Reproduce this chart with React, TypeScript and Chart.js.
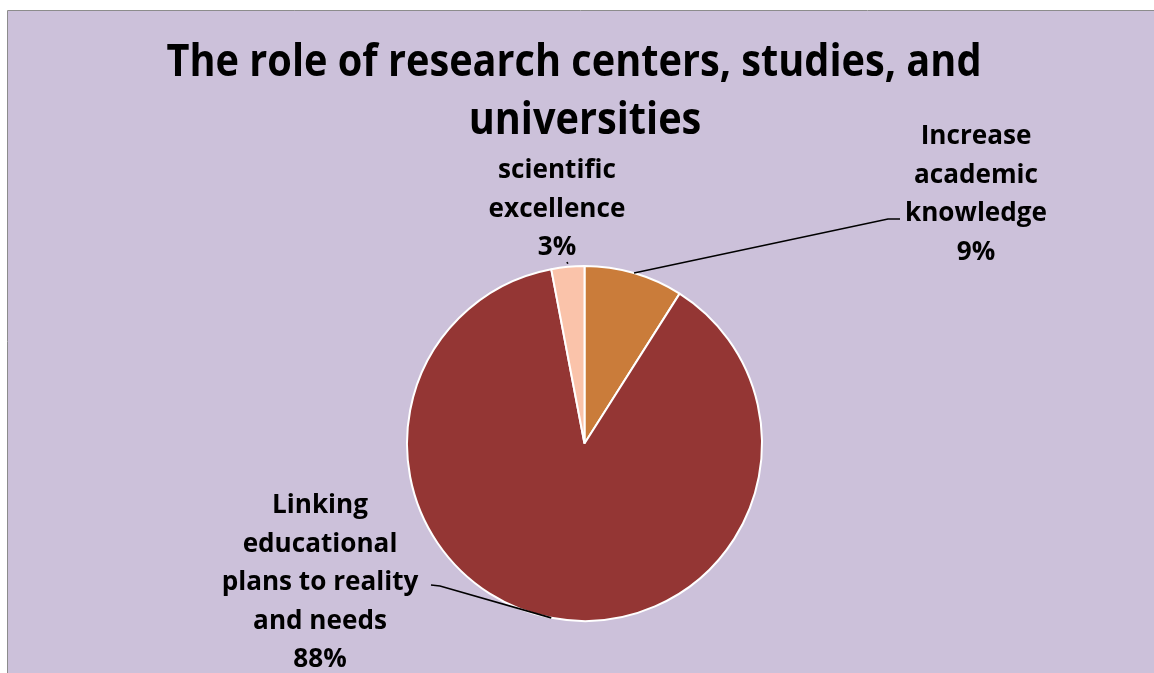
import React, { useEffect, useRef } from "react";
import { Chart, registerables } from "chart.js";

Chart.register(...registerables);

const titleLines = ["The role of research centers, studies, and", "universities"];
const categories = [
  "Increase academic knowledge",
  "Linking educational plans to reality and needs",
  "scientific excellence",
];
const values = [9, 88, 3];
const labelLines = [
  ["Increase", "academic", "knowledge"],
  ["Linking", "educational", "plans to reality", "and needs"],
  ["scientific", "excellence"],
];
const sliceColors = ["#CA7C3A", "#943634", "#FAC3AA"];

const W = 1154;
const H = 673;
const FONT = "'Open Sans', Lato, sans-serif";

function drawText(
  ctx: CanvasRenderingContext2D,
  text: string,
  cx: number,
  baseline: number,
  size: number,
  sx: number
) {
  ctx.save();
  ctx.font = `bold ${size}px ${FONT}`;
  (ctx as any).textRendering = "optimizeSpeed";
  ctx.textAlign = "center";
  ctx.textBaseline = "alphabetic";
  ctx.fillStyle = "#000";
  ctx.translate(cx, baseline);
  ctx.scale(sx, 1);
  ctx.fillText(text, 0, 0);
  ctx.restore();
}

function widthScale(ctx: CanvasRenderingContext2D, text: string, size: number, target: number) {
  ctx.save();
  ctx.font = `bold ${size}px ${FONT}`;
  (ctx as any).textRendering = "optimizeSpeed";
  const w = ctx.measureText(text).width;
  ctx.restore();
  return target / w;
}

const decorPlugin = {
  id: "decor",
  beforeDraw(chart: any) {
    const ctx: CanvasRenderingContext2D = chart.ctx;
    ctx.save();
    ctx.fillStyle = "#ffffff";
    ctx.fillRect(0, 0, W, H);
    ctx.fillStyle = "#CCC1DA";
    ctx.fillRect(8, 11, W - 8, H - 11);
    ctx.strokeStyle = "#8C8C8C";
    ctx.lineWidth = 1;
    ctx.beginPath();
    ctx.moveTo(7.5, H);
    ctx.lineTo(7.5, 10.5);
    ctx.lineTo(W, 10.5);
    ctx.stroke();
    ctx.restore();
  },
  afterDraw(chart: any) {
    const ctx: CanvasRenderingContext2D = chart.ctx;
    // Title
    const tSize = 45;
    const tsx = widthScale(ctx, titleLines[0], tSize, 815);
    drawText(ctx, titleLines[0], 574, 76, tSize, tsx);
    drawText(ctx, titleLines[1], 585, 134, tSize, tsx);

    // Labels
    const lSize = 27;
    const lsx = widthScale(ctx, "knowledge", lSize, 142);
    const total = values.reduce((a, b) => a + b, 0);
    const layout = [
      { cx: 976, base: 144, anchor: [900, 219], elbow: [888, 219] },
      { cx: 320, base: 513, anchor: [431, 585], elbow: [440, 586] },
      { cx: 557, base: 178, anchor: [567, 262], elbow: null as any },
    ];
    const meta = chart.getDatasetMeta(0);
    const lineGap = 38.5;
    values.forEach((v, i) => {
      const L = layout[i];
      const lines = [...labelLines[i], `${Math.round((v / total) * 100)}%`];
      lines.forEach((s, k) => drawText(ctx, s, L.cx, L.base + k * lineGap, lSize, lsx));
      // Leader line from arc mid-point
      const arc = meta.data[i];
      const p = arc.getProps(["x", "y", "startAngle", "endAngle", "outerRadius"], true);
      const mid = (p.startAngle + p.endAngle) / 2;
      const sx0 = p.x + Math.cos(mid) * p.outerRadius;
      const sy0 = p.y + Math.sin(mid) * p.outerRadius;
      ctx.save();
      ctx.strokeStyle = "#000";
      ctx.lineWidth = 1.6;
      ctx.beginPath();
      ctx.moveTo(sx0, sy0 - (i === 2 ? 3 : 0));
      if (L.elbow) ctx.lineTo(L.elbow[0], L.elbow[1]);
      ctx.lineTo(L.anchor[0], L.anchor[1]);
      ctx.stroke();
      ctx.restore();
    });
  },
};

export default function App() {
  const ref = useRef<HTMLCanvasElement | null>(null);
  useEffect(() => {
    if (!ref.current) return;
    const chart = new Chart(ref.current, {
      type: "pie",
      data: {
        labels: categories,
        datasets: [
          {
            data: values,
            backgroundColor: sliceColors,
            borderColor: "#ffffff",
            borderWidth: 2,
          },
        ],
      },
      options: {
        responsive: false,
        animation: false,
        devicePixelRatio: 1,
        layout: { padding: { left: 406, right: 391, top: 265, bottom: 51 } },
        plugins: {
          legend: { display: false },
          title: { display: false },
          tooltip: { enabled: false },
        },
      },
      plugins: [decorPlugin],
    });
    return () => chart.destroy();
  }, []);
  return (
    <div style={{ position: "fixed", left: 0, top: 0, width: W, height: H, overflow: "hidden" }}>
      <canvas ref={ref} width={W} height={H} style={{ display: "block", width: W, height: H }} />
    </div>
  );
}
